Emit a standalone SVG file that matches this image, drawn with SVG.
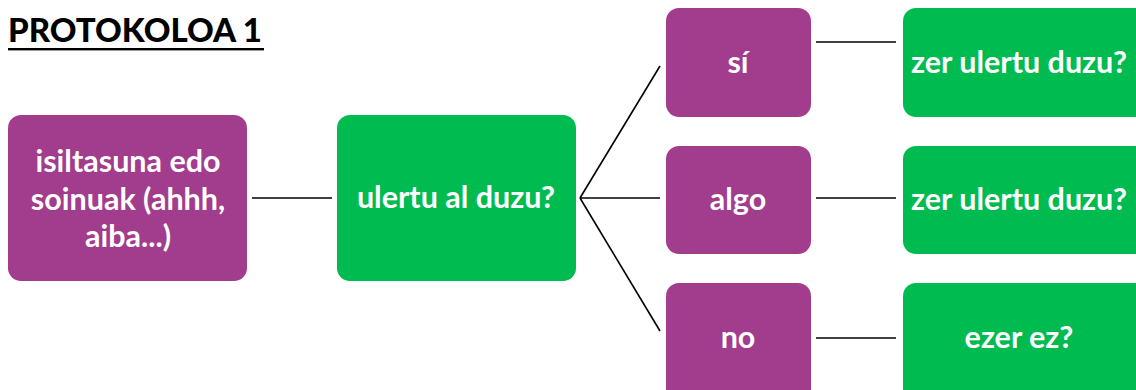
<svg xmlns="http://www.w3.org/2000/svg" width="1136" height="390" viewBox="0 0 1136 390">
<style>
.p{fill:#a23c8c}
.g{fill:#00bb50}
.t{font-family:Lato,"Noto Sans",sans-serif;font-weight:bold;font-size:30.5px;fill:#ffffff;text-anchor:middle}
.c line{stroke:#000;stroke-width:1.6}
.title{font-family:Lato,"Liberation Sans",sans-serif;font-weight:900;font-size:33px;fill:#000}
</style>
<rect width="1136" height="390" fill="#ffffff"/>
<g id="title">
<text class="title" x="8" y="42" textLength="254" lengthAdjust="spacingAndGlyphs">PROTOKOLOA 1</text>
<rect x="8" y="48" width="256" height="2.4" fill="#000"/>
</g>
<g class="c" id="connectors">
<line x1="252" y1="198" x2="332" y2="198"/>
<line x1="580" y1="198" x2="660" y2="66"/>
<line x1="580" y1="198" x2="660" y2="198"/>
<line x1="580" y1="198" x2="660" y2="331"/>
<line x1="816" y1="42" x2="896" y2="42"/>
<line x1="816" y1="198" x2="896" y2="198"/>
<line x1="816" y1="338" x2="896" y2="338"/>
</g>
<g id="n1">
<rect class="p" x="8" y="115" width="239" height="166" rx="13"/>
<text class="t" x="128" y="172">isiltasuna edo</text>
<text class="t" x="128" y="210">soinuak (ahhh,</text>
<text class="t" x="128" y="247">aiba...)</text>
</g>
<g id="n2">
<rect class="g" x="337" y="115" width="239" height="166" rx="13"/>
<text class="t" x="456" y="208">ulertu al duzu?</text>
</g>
<g id="n3">
<rect class="p" x="666" y="8" width="145" height="109" rx="13"/>
<text class="t" x="738" y="73">sí</text>
</g>
<g id="n4">
<rect class="g" x="903" y="8" width="245" height="109" rx="13"/>
<text class="t" x="1019" y="73">zer ulertu duzu?</text>
</g>
<g id="n5">
<rect class="p" x="666" y="146" width="145" height="108" rx="13"/>
<text class="t" x="738" y="210">algo</text>
</g>
<g id="n6">
<rect class="g" x="903" y="146" width="245" height="108" rx="13"/>
<text class="t" x="1019" y="210">zer ulertu duzu?</text>
</g>
<g id="n7">
<rect class="p" x="666" y="283" width="145" height="120" rx="13"/>
<text class="t" x="738" y="348">no</text>
</g>
<g id="n8">
<rect class="g" x="903" y="283" width="245" height="120" rx="13"/>
<text class="t" x="1019" y="348">ezer ez?</text>
</g>
</svg>
